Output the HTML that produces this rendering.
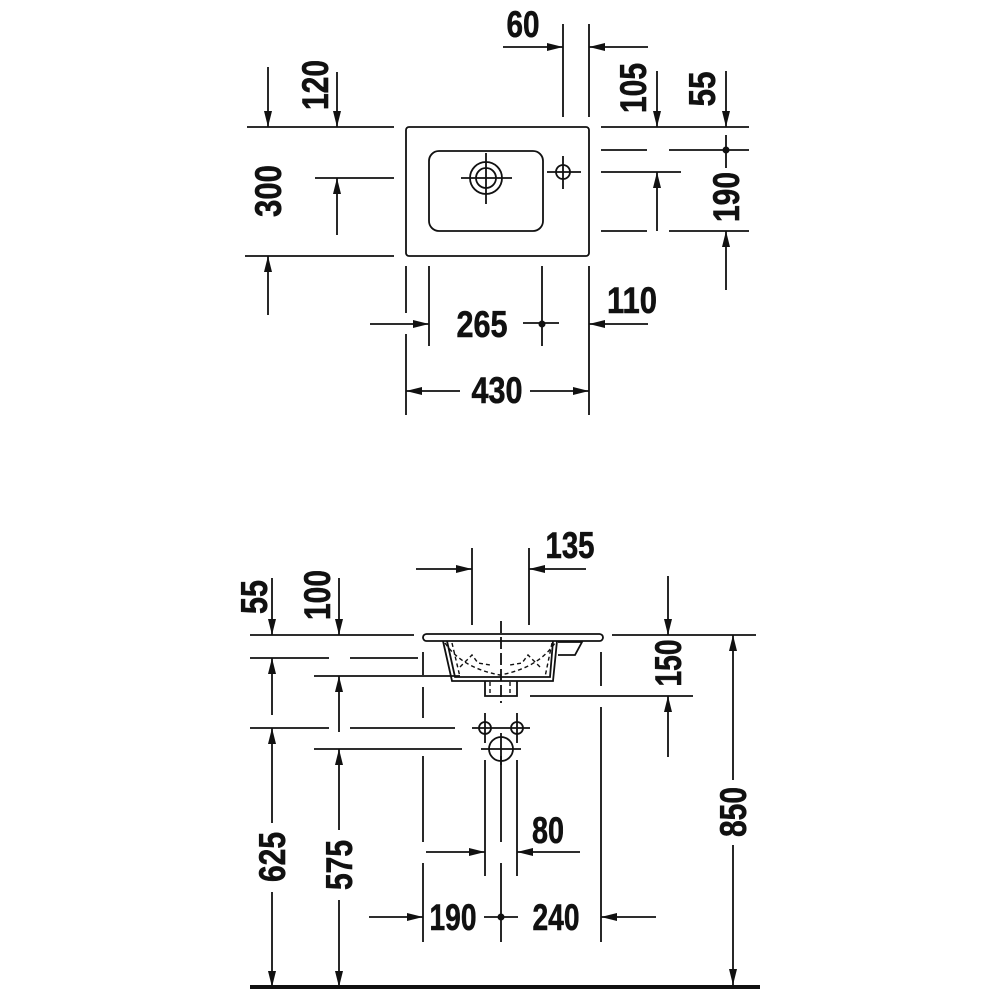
<!DOCTYPE html>
<html><head><meta charset="utf-8"><style>
html,body{margin:0;padding:0;background:#fff;width:1000px;height:1000px;overflow:hidden}
svg{display:block}
text{font-family:"Liberation Sans",sans-serif;font-weight:bold;font-size:37px;fill:#111;stroke:#111;stroke-width:0.6}
</style></head><body>
<svg width="1000" height="1000" viewBox="0 0 1000 1000" xmlns="http://www.w3.org/2000/svg">
<defs>
<marker id="a" viewBox="0 0 16 8" refX="16" refY="4" markerWidth="16" markerHeight="8" markerUnits="userSpaceOnUse" orient="auto"><path d="M0,0 L16,4 L0,8z" fill="#111"/></marker>
</defs>
<g stroke="#111" stroke-width="1.8" fill="none">
<!-- TOP VIEW -->
<rect x="406" y="127" width="183" height="129" rx="3"/>
<rect x="429" y="151" width="114" height="80" rx="10"/>
<circle cx="486" cy="178" r="16"/><circle cx="486" cy="178" r="10"/>
<line x1="461" y1="178" x2="512" y2="178"/><line x1="486" y1="153" x2="486" y2="204"/>
<circle cx="563" cy="172" r="7"/>
<line x1="547" y1="172" x2="581" y2="172"/><line x1="563" y1="156" x2="563" y2="189"/>
<line x1="247" y1="127" x2="394" y2="127"/>
<line x1="245" y1="256" x2="394" y2="256"/>
<line x1="315" y1="178" x2="394" y2="178"/>
<line x1="268" y1="67" x2="268" y2="127" marker-end="url(#a)"/>
<line x1="337" y1="72" x2="337" y2="127" marker-end="url(#a)"/>
<line x1="337" y1="235" x2="337" y2="178" marker-end="url(#a)"/>
<line x1="268" y1="315" x2="268" y2="256" marker-end="url(#a)"/>
<line x1="563" y1="24" x2="563" y2="117"/>
<line x1="589" y1="24" x2="589" y2="117"/>
<line x1="503" y1="47" x2="563" y2="47" marker-end="url(#a)"/>
<line x1="648" y1="47" x2="589" y2="47" marker-end="url(#a)"/>
<line x1="657" y1="71" x2="657" y2="127" marker-end="url(#a)"/>
<line x1="726" y1="71" x2="726" y2="127" marker-end="url(#a)"/>
<line x1="601" y1="127" x2="749" y2="127"/>
<line x1="601" y1="150" x2="647" y2="150"/><line x1="669" y1="150" x2="749" y2="150"/>
<line x1="601" y1="172" x2="681" y2="172"/>
<line x1="601" y1="231" x2="647" y2="231"/><line x1="669" y1="231" x2="749" y2="231"/>
<line x1="726" y1="135" x2="726" y2="168"/>
<line x1="657" y1="231" x2="657" y2="172" marker-end="url(#a)"/>
<line x1="726" y1="290" x2="726" y2="231" marker-end="url(#a)"/>
<line x1="406" y1="266" x2="406" y2="313"/><line x1="406" y1="334" x2="406" y2="415"/>
<line x1="429" y1="266" x2="429" y2="346"/>
<line x1="542" y1="266" x2="542" y2="346"/>
<line x1="589" y1="266" x2="589" y2="415"/>
<line x1="523" y1="323" x2="559" y2="323"/>
<line x1="370" y1="324" x2="429" y2="324" marker-end="url(#a)"/>
<line x1="648" y1="324" x2="589" y2="324" marker-end="url(#a)"/>
<line x1="460" y1="391" x2="406" y2="391" marker-end="url(#a)"/>
<line x1="530" y1="391" x2="589" y2="391" marker-end="url(#a)"/>

<!-- FRONT VIEW -->
<rect x="423" y="634" width="180" height="7" rx="3.5"/>
<path d="M443,641 L452,681 L553,681 L557,641"/>
<path d="M447,641 L455,677 L550,677 L553,641"/>
<path d="M558,642 L582,642 L575,655 L558,655"/>
<path d="M485,681 L485,696 L517,696 L517,681"/>
<g stroke-dasharray="4,3" stroke-width="1.4">
<path d="M490,682 L490,696 M510,682 L510,696"/>
<path d="M445,643 Q462,668 500,675 Q538,668 555,643"/>
<path d="M460,667 L472,655 L478,663 L490,665"/>
<path d="M540,667 L528,655 L522,663 L510,665"/>
<path d="M452,643 L460,677 M552,643 L545,677"/>
</g>
<path d="M501,621 L501,703" stroke-dasharray="12,4"/>
<path d="M501,756 L501,842 M501,863 L501,942"/>
<line x1="250" y1="635" x2="414" y2="635"/>
<line x1="612" y1="635" x2="756" y2="635"/>
<line x1="250" y1="658" x2="329" y2="658"/><line x1="350" y1="658" x2="418" y2="658"/>
<line x1="314" y1="676" x2="460" y2="676"/>
<line x1="250" y1="728" x2="329" y2="728"/><line x1="350" y1="728" x2="455" y2="728"/>
<line x1="314" y1="749" x2="462" y2="749"/>
<line x1="530" y1="696" x2="693" y2="696"/>
<line x1="472" y1="548" x2="472" y2="625"/>
<line x1="529" y1="548" x2="529" y2="625"/>
<line x1="416" y1="569" x2="472" y2="569" marker-end="url(#a)"/>
<line x1="586" y1="569" x2="529" y2="569" marker-end="url(#a)"/>
<line x1="272" y1="578" x2="272" y2="635" marker-end="url(#a)"/>
<line x1="339" y1="578" x2="339" y2="635" marker-end="url(#a)"/>
<line x1="272" y1="715" x2="272" y2="658" marker-end="url(#a)"/>
<line x1="339" y1="732" x2="339" y2="676" marker-end="url(#a)"/>
<line x1="272" y1="823" x2="272" y2="728" marker-end="url(#a)"/>
<line x1="272" y1="892" x2="272" y2="987" marker-end="url(#a)"/>
<line x1="339" y1="830" x2="339" y2="749" marker-end="url(#a)"/>
<line x1="339" y1="900" x2="339" y2="987" marker-end="url(#a)"/>
<line x1="423" y1="652" x2="423" y2="675"/><line x1="423" y1="687" x2="423" y2="718"/>
<line x1="423" y1="756" x2="423" y2="842"/><line x1="423" y1="863" x2="423" y2="942"/>
<line x1="601" y1="652" x2="601" y2="686"/><line x1="601" y1="707" x2="601" y2="942"/>
<line x1="668" y1="576" x2="668" y2="635" marker-end="url(#a)"/>
<line x1="668" y1="757" x2="668" y2="696" marker-end="url(#a)"/>
<line x1="733" y1="780" x2="733" y2="635" marker-end="url(#a)"/>
<line x1="733" y1="845" x2="733" y2="985" marker-end="url(#a)"/>
<circle cx="485" cy="728" r="6"/><circle cx="517" cy="728" r="6"/>
<line x1="472" y1="728" x2="530" y2="728"/>
<line x1="485" y1="713" x2="485" y2="743"/><line x1="517" y1="713" x2="517" y2="743"/>
<circle cx="501" cy="749" r="12"/>
<line x1="481" y1="749" x2="521" y2="749"/><line x1="501" y1="733" x2="501" y2="765"/>
<line x1="485" y1="760" x2="485" y2="876"/><line x1="517" y1="760" x2="517" y2="876"/>
<line x1="426" y1="852" x2="485" y2="852" marker-end="url(#a)"/>
<line x1="580" y1="852" x2="517" y2="852" marker-end="url(#a)"/>
<line x1="369" y1="917" x2="423" y2="917" marker-end="url(#a)"/>
<line x1="656" y1="917" x2="601" y2="917" marker-end="url(#a)"/>
<line x1="484" y1="917" x2="518" y2="917"/>
</g>
<circle cx="726" cy="150" r="3.5" fill="#111"/>
<circle cx="542" cy="324" r="3.5" fill="#111"/>
<circle cx="501" cy="917" r="3.5" fill="#111"/>
<rect x="250" y="985" width="510" height="4" fill="#111"/>

<text x="523" y="37" text-anchor="middle" textLength="33" lengthAdjust="spacingAndGlyphs">60</text>
<text x="482" y="337" text-anchor="middle" textLength="51" lengthAdjust="spacingAndGlyphs">265</text>
<text x="632" y="313" text-anchor="middle" textLength="50" lengthAdjust="spacingAndGlyphs">110</text>
<text x="497" y="403" text-anchor="middle" textLength="51" lengthAdjust="spacingAndGlyphs">430</text>
<text x="570" y="558" text-anchor="middle" textLength="49" lengthAdjust="spacingAndGlyphs">135</text>
<text x="548" y="843" text-anchor="middle" textLength="32" lengthAdjust="spacingAndGlyphs">80</text>
<text x="453" y="930" text-anchor="middle" textLength="47" lengthAdjust="spacingAndGlyphs">190</text>
<text x="556" y="930" text-anchor="middle" textLength="47" lengthAdjust="spacingAndGlyphs">240</text>
<text transform="translate(315,85) rotate(-90)" x="0" y="13" text-anchor="middle" textLength="50" lengthAdjust="spacingAndGlyphs">120</text>
<text transform="translate(268,191) rotate(-90)" x="0" y="13" text-anchor="middle" textLength="52" lengthAdjust="spacingAndGlyphs">300</text>
<text transform="translate(633,88) rotate(-90)" x="0" y="13" text-anchor="middle" textLength="50" lengthAdjust="spacingAndGlyphs">105</text>
<text transform="translate(702,89) rotate(-90)" x="0" y="13" text-anchor="middle" textLength="35" lengthAdjust="spacingAndGlyphs">55</text>
<text transform="translate(726,197) rotate(-90)" x="0" y="13" text-anchor="middle" textLength="50" lengthAdjust="spacingAndGlyphs">190</text>
<text transform="translate(254,597) rotate(-90)" x="0" y="13" text-anchor="middle" textLength="34" lengthAdjust="spacingAndGlyphs">55</text>
<text transform="translate(317,595) rotate(-90)" x="0" y="13" text-anchor="middle" textLength="50" lengthAdjust="spacingAndGlyphs">100</text>
<text transform="translate(668,663) rotate(-90)" x="0" y="13" text-anchor="middle" textLength="47" lengthAdjust="spacingAndGlyphs">150</text>
<text transform="translate(733,812) rotate(-90)" x="0" y="13" text-anchor="middle" textLength="50" lengthAdjust="spacingAndGlyphs">850</text>
<text transform="translate(272,857) rotate(-90)" x="0" y="13" text-anchor="middle" textLength="50" lengthAdjust="spacingAndGlyphs">625</text>
<text transform="translate(339,865) rotate(-90)" x="0" y="13" text-anchor="middle" textLength="50" lengthAdjust="spacingAndGlyphs">575</text>
</svg>
</body></html>
